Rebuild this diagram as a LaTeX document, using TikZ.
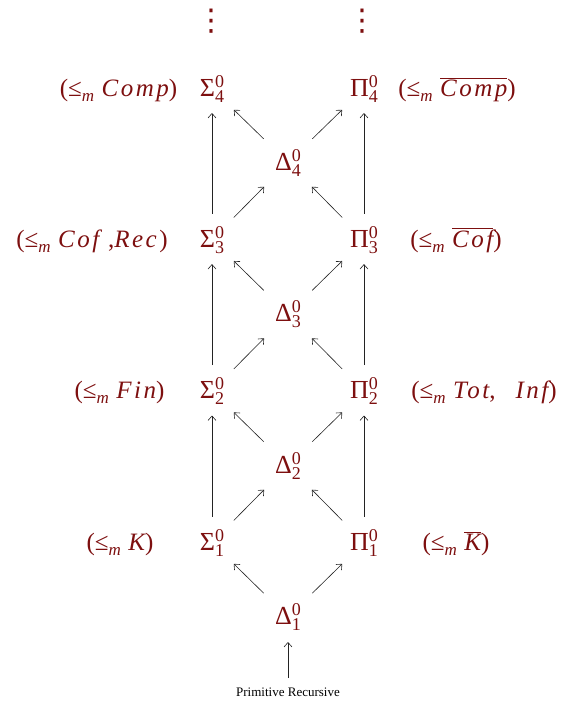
\documentclass[tikz,border=0pt]{standalone}
\usepackage{fontspec}
\setmainfont{Liberation Serif}
\newfontface\mifont{Liberation Serif Italic}[LetterSpace=10]
\newfontfamily\djv{DejaVu Sans}
\usetikzlibrary{arrows.meta}
\definecolor{clsred}{RGB}{125,15,15}
\definecolor{arrgray}{RGB}{35,35,35}
\newcommand\scr{\fontsize{18}{18}\selectfont}
\newcommand\supsub[2]{\makebox[0pt][l]{\raisebox{9pt}{\scr #1}}\raisebox{-6pt}{\scr #2}}
\newcommand\lem{≤\raisebox{-5pt}{\fontsize{17}{17}\selectfont\itshape m}\hspace{0.3em}}
\newcommand\mi[1]{{\mifont #1}}
\newcommand\ovl[1]{\ensuremath{\overline{\mbox{#1}}}}
\begin{document}
\begin{tikzpicture}[x=1pt,y=-1pt,
  font=\fontsize{25}{30}\selectfont,
  cl/.style={text=clsred, inner sep=0pt, anchor=base, font=\fontsize{26}{30}\selectfont},
  lab/.style={text=clsred, inner sep=0pt, anchor=base},
  dotn/.style={text=clsred, inner sep=0pt, font=\djv\fontsize{30}{30}\selectfont},
  arr/.style={draw=arrgray, -{Straight Barb[length=4.5pt,width=8pt]}, line width=0.6pt},
  vert/.style={arr, shorten <=26pt, shorten >=24.5pt},
  fromD/.style={arr, shorten <=34pt, shorten >=30.5pt},
  toD/.style={arr, shorten <=31pt, shorten >=34pt}]
\path[use as bounding box] (0,0) rectangle (560,702);
% vertical dots
\node[dotn] (dl) at (211,21) {⋮};
\node[dotn] (dr) at (362,21) {⋮};
% Sigma / Pi / Delta nodes (placed by baseline)
\node[cl] (S4) at (212,96) {Σ\supsub{0}{4}};
\node[cl] (P4) at (364,96) {Π\supsub{0}{4}};
\node[cl] (D4) at (288,170) {Δ\supsub{0}{4}};
\node[cl] (S3) at (212,247) {Σ\supsub{0}{3}};
\node[cl] (P3) at (364,247) {Π\supsub{0}{3}};
\node[cl] (D3) at (288,321.5) {Δ\supsub{0}{3}};
\node[cl] (S2) at (212,398.5) {Σ\supsub{0}{2}};
\node[cl] (P2) at (364,398.5) {Π\supsub{0}{2}};
\node[cl] (D2) at (288,473) {Δ\supsub{0}{2}};
\node[cl] (S1) at (212,550) {Σ\supsub{0}{1}};
\node[cl] (P1) at (364,550) {Π\supsub{0}{1}};
\node[cl] (D1) at (288,624.5) {Δ\supsub{0}{1}};
\node[inner sep=2pt, font=\fontsize{13}{15}\selectfont] (PR) at (288,692) {Primitive Recursive};
% side labels
\node[lab] (L4) at (118.5,96) {(\lem\mi{Comp})};
\node[lab] (R4) at (457,96) {(\lem\ovl{\mi{Comp}})};
\node[lab] (L3) at (92,247) {(\lem\mi{Cof}\hspace{0.35em},\mi{Rec}\hspace{0.1em})};
\node[lab] (R3) at (456,247) {(\lem\ovl{\mi{Cof}})};
\node[lab] (L2) at (119.5,398.5) {(\lem\mi{Fin})};
\node[lab] (R2) at (484,398.5) {(\lem\mi{Tot},\hspace{0.8em}\mi{Inf})};
\node[lab] (L1) at (120,550) {(\lem\mi{K})};
\node[lab] (R1) at (456,550) {(\lem\ovl{\mi{K}})};
% arrows (measured from node centres)
\foreach \lo/\hi in {1/2,2/3,3/4}{
  \draw[vert] (S\lo.center) -- (S\hi.center);
  \draw[vert] (P\lo.center) -- (P\hi.center);
}
\foreach \n in {1,2,3,4}{
  \draw[fromD] (D\n.center) -- (S\n.center);
  \draw[fromD] (D\n.center) -- (P\n.center);
}
\foreach \lo/\hi in {1/2,2/3,3/4}{
  \draw[toD] (S\lo.center) -- (D\hi.center);
  \draw[toD] (P\lo.center) -- (D\hi.center);
}
\draw[arr, shorten <=14pt, shorten >=25pt] (PR.center) -- (D1.center);
\end{tikzpicture}
\end{document}
